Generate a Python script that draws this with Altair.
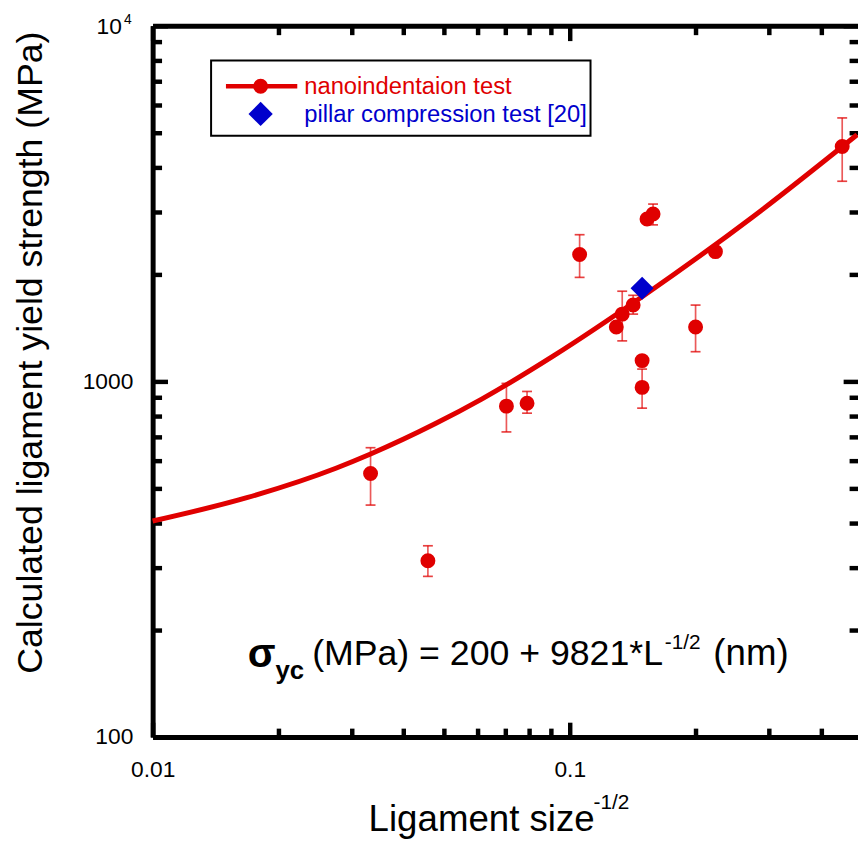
import altair as alt
import pandas as pd

# ---------------- data ----------------
pt_x = [0.0333, 0.0457, 0.0705, 0.0790, 0.1056, 0.1293, 0.1336, 0.1419, 0.1491, 0.1491,
        0.1532, 0.1584, 0.2003, 0.2235, 0.450]
pt_y = [551, 313, 852, 868, 2273, 1423, 1546, 1639, 1144, 962,
        2862, 2957, 1423, 2317, 4575]

err_x = [0.0333, 0.0457, 0.0705, 0.0790, 0.1056, 0.1336, 0.1419, 0.1491, 0.1584, 0.2003, 0.450]
err_lo = [449, 283, 721, 814, 1961, 1300, 1546, 841, 2755, 1212, 3654]
err_hi = [651, 345, 987, 937, 2585, 1793, 1746, 1083, 3152, 1639, 5506]

fit_x = [0.01, 0.01682, 0.0275, 0.0333, 0.04753, 0.0615, 0.0916, 0.150, 0.2735, 0.4885]
fit_y = [405, 471, 570, 625, 760, 892, 1182, 1739, 2891, 4939]

pillar_x = [0.1491]
pillar_y = [1828]

legend_labels = ["nanoindentaion test", "pillar compression test [20]"]
x_major = [0.01, 0.1]
x_minor = [0.02, 0.03, 0.04, 0.05, 0.06, 0.07, 0.08, 0.09, 0.2, 0.3, 0.4]
y_major = [100, 1000, 10000]
y_minor = [200, 300, 400, 500, 600, 700, 800, 900,
           2000, 3000, 4000, 5000, 6000, 7000, 8000, 9000]

# ---------------- styling ----------------
RED = "#e00000"
BLUE = "#0000cc"
FONT = "Liberation Sans"
W, H = 712, 718
xs = alt.Scale(type="log", domain=[0.01, 0.491], nice=False)
ys = alt.Scale(type="log", domain=[100, 10000], nice=False)


def axis(orient, values=None, domain=False, ticks=False, size=0, labels=False,
         offset=0, **kw):
    args = dict(orient=orient, title=None, grid=False, domain=domain,
                domainColor="black", domainWidth=5, ticks=ticks, tickSize=size,
                tickColor="black", tickWidth=4.5, labels=labels, offset=offset,
                labelFont=FONT, labelFontSize=23, labelColor="black",
                labelFlush=False)
    if values is not None:
        args["values"] = values
    args.update(kw)
    return alt.Axis(**args)


ax_bottom = axis("bottom", values=x_major, domain=True, labels=True, labelPadding=22)
ax_bottom_maj = axis("bottom", values=x_major, ticks=True, size=15, offset=-15)
ax_bottom_min = axis("bottom", values=x_minor, ticks=True, size=9, offset=-9)
ax_top = axis("top", values=x_major, domain=True)
ax_top_maj = axis("top", values=x_major, ticks=True, size=15, offset=-15)
ax_top_min = axis("top", values=x_minor, ticks=True, size=9, offset=-9)

ax_left = axis("left", values=y_major, domain=True, labels=True, labelPadding=20,
               labelExpr="datum.value >= 10000 ? '' : format(datum.value, 'd')")
ax_left_maj = axis("left", values=y_major, ticks=True, size=15, offset=-15)
ax_left_min = axis("left", values=y_minor, ticks=True, size=9, offset=-9)
ax_right_maj = axis("right", values=y_major, ticks=True, size=15, offset=-15)
ax_right_min = axis("right", values=y_minor, ticks=True, size=9, offset=-9)

pts = pd.DataFrame({"x": pt_x, "y": pt_y})
errs = pd.DataFrame({"x": err_x, "lo": err_lo, "hi": err_hi})
fit = pd.DataFrame({"x": fit_x, "y": fit_y})
pillar = pd.DataFrame({"x": pillar_x, "y": pillar_y})

curve = alt.Chart(fit).mark_line(color=RED, strokeWidth=5, interpolate="monotone").encode(
    x=alt.X("x:Q", scale=xs, axis=ax_bottom),
    y=alt.Y("y:Q", scale=ys, axis=ax_left),
)
err_rules = alt.Chart(errs).mark_rule(color=RED, strokeWidth=1.7, opacity=0.65).encode(
    x=alt.X("x:Q", scale=xs, axis=ax_bottom_maj),
    y=alt.Y("lo:Q", scale=ys, axis=ax_left_maj),
    y2="hi:Q",
)
caps_lo = alt.Chart(errs).mark_tick(orient="horizontal", color=RED, size=10,
                                    thickness=1.7, opacity=0.75).encode(
    x=alt.X("x:Q", scale=xs, axis=ax_bottom_min),
    y=alt.Y("lo:Q", scale=ys, axis=ax_left_min),
)
caps_hi = alt.Chart(errs).mark_tick(orient="horizontal", color=RED, size=10,
                                    thickness=1.7, opacity=0.75).encode(
    x=alt.X("x:Q", scale=xs, axis=ax_top),
    y=alt.Y("hi:Q", scale=ys, axis=ax_right_maj),
)
points = alt.Chart(pts).mark_point(filled=True, shape="circle", size=227,
                                   color=RED, opacity=1).encode(
    x=alt.X("x:Q", scale=xs, axis=ax_top_maj),
    y=alt.Y("y:Q", scale=ys, axis=ax_right_min),
)
diamond = alt.Chart(pillar).mark_point(filled=True, shape="diamond", size=540,
                                       color=BLUE, opacity=1).encode(
    x=alt.X("x:Q", scale=xs, axis=ax_top_min),
    y=alt.Y("y:Q", scale=ys, axis=None),
)


def label(text, x, y, size, color="black", weight="normal", angle=0,
          align="left", baseline="alphabetic"):
    return alt.Chart(pd.DataFrame({"t": [text]})).mark_text(
        font=FONT, fontSize=size, color=color, fontWeight=weight, angle=angle,
        align=align, baseline=baseline,
    ).encode(text="t:N", x=alt.value(x), y=alt.value(y))


# legend
leg_df = pd.DataFrame({"t": [legend_labels[0]]})
leg_box = alt.Chart(leg_df).mark_rect(fill="white", stroke="black", strokeWidth=2).encode(
    x=alt.value(59), x2=alt.value(442), y=alt.value(35), y2=alt.value(111))
leg_line = alt.Chart(leg_df).mark_rule(color=RED, strokeWidth=4.5).encode(
    x=alt.value(74), x2=alt.value(146), y=alt.value(61))
leg_circle = alt.Chart(leg_df).mark_point(filled=True, shape="circle", size=227,
                                          color=RED, opacity=1).encode(
    x=alt.value(109), y=alt.value(61))
leg_diamond = alt.Chart(leg_df).mark_point(filled=True, shape="diamond", size=600,
                                           color=BLUE, opacity=1).encode(
    x=alt.value(109), y=alt.value(89))
leg_t1 = label(legend_labels[0], 153, 62, 24, color=RED, baseline="middle")
leg_t2 = label(legend_labels[1], 153, 90, 24, color=BLUE, baseline="middle")

# equation
eq = [
    label("\u03c3", 96, 647, 41, weight="bold"),
    label("yc", 124, 659, 26, weight="bold"),
    label("(MPa) = 200 + 9821*L", 161, 645, 36),
    label("-1/2", 517, 629, 21),
    label("(nm)", 566, 645, 37),
]

# axis titles and the 10^4 tick label
titles = [
    label("Ligament size", 218, 813, 37),
    label("-1/2", 445, 791, 21),
    label("Calculated ligament yield strength (MPa)", -112, 330, 36,
          angle=270, align="center"),
    label("10", -31, 1, 23, align="right", baseline="middle"),
    label("4", -29, -6, 14, baseline="middle"),
]

chart = alt.layer(
    curve, err_rules, caps_lo, caps_hi, points, diamond,
    leg_box, leg_line, leg_circle, leg_diamond, leg_t1, leg_t2,
    *eq, *titles,
).resolve_axis(x="independent", y="independent").properties(
    width=W, height=H,
    autosize=alt.AutoSizeParams(type="none"),
    padding={"left": 146, "top": 14, "right": 0, "bottom": 100},
    background="white",
).configure_view(stroke=None)

chart.save("out.html", embed_options={"renderer": "svg", "actions": False})
